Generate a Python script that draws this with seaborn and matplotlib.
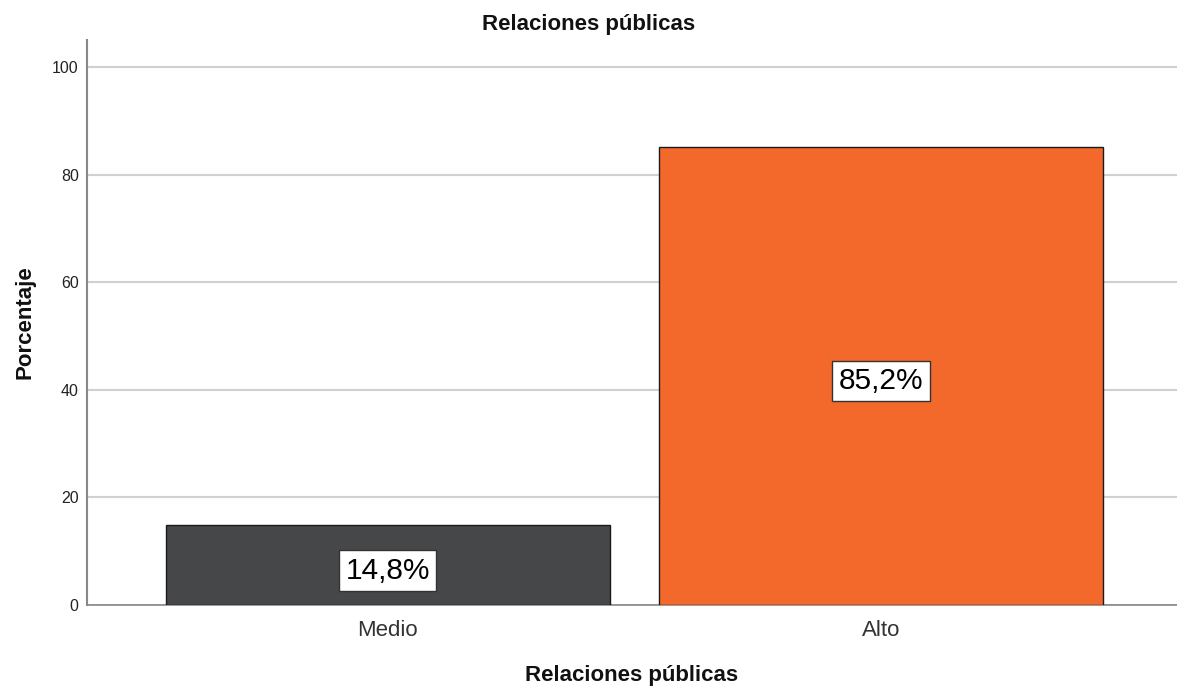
import pandas as pd
import matplotlib
matplotlib.use("Agg")
import matplotlib.pyplot as plt
import seaborn as sns

# Data
categories = ["Medio", "Alto"]
percentages = [14.8, 85.2]
bar_colors = ["#464749", "#f3692c"]
y_ticks = [0, 20, 40, 60, 80, 100]

df = pd.DataFrame({"nivel": categories, "porcentaje": percentages})

sns.set_style("white")
plt.rcParams['font.family'] = ['Liberation Sans', 'DejaVu Sans']

fig = plt.figure(figsize=(11.77, 6.87), dpi=100)
ax = fig.add_axes([0.0739, 0.1194, 0.9261, 0.8224])

sns.barplot(
    data=df,
    x="nivel",
    y="porcentaje",
    hue="nivel",
    palette=dict(zip(categories, bar_colors)),
    saturation=1,
    width=0.9,
    edgecolor="#1a1a1a",
    linewidth=1.0,
    legend=False,
    ax=ax,
    zorder=3
)

# Value labels in boxes
for bar, val in zip(ax.patches, percentages):
    ax.text(
        bar.get_x() + bar.get_width() / 2,
        val / 2 - 1.0,
        f"{val:.1f}%".replace(".", ","),
        ha="center",
        va="center",
        fontsize=21.5,
        color="black",
        zorder=5,
        bbox=dict(boxstyle="square,pad=0.21", facecolor="white", edgecolor="#333333", linewidth=1)
    )

# Format
ax.set_xlim(-0.61, 1.60)
ax.set_ylim(0, 105)
ax.set_yticks(y_ticks)
ax.yaxis.grid(True, color="#d0d0d0", linewidth=1.5, zorder=0)
ax.set_axisbelow(True)
ax.tick_params(axis="both", length=0)
ax.tick_params(axis="y", labelsize=11.5, labelcolor="#222222", pad=6)
ax.tick_params(axis="x", labelsize=16, labelcolor="#333333", pad=11)

for side in ["top", "right"]:
    ax.spines[side].set_visible(False)
ax.spines["left"].set_color("#888888")
ax.spines["left"].set_linewidth(1.5)
ax.spines["bottom"].set_color("#888888")
ax.spines["bottom"].set_linewidth(1.2)

# Title is centred on the figure, x label on the axes
ax.set_title("Relaciones públicas", fontsize=16, fontweight="bold", pad=7, color="#111111", x=0.46)
ax.set_xlabel("Relaciones públicas", fontsize=16, fontweight="bold", labelpad=17, color="#111111")
ax.set_ylabel("Porcentaje", fontsize=16, fontweight="bold", labelpad=12, color="#111111")

fig.savefig("out.png", dpi=100)
